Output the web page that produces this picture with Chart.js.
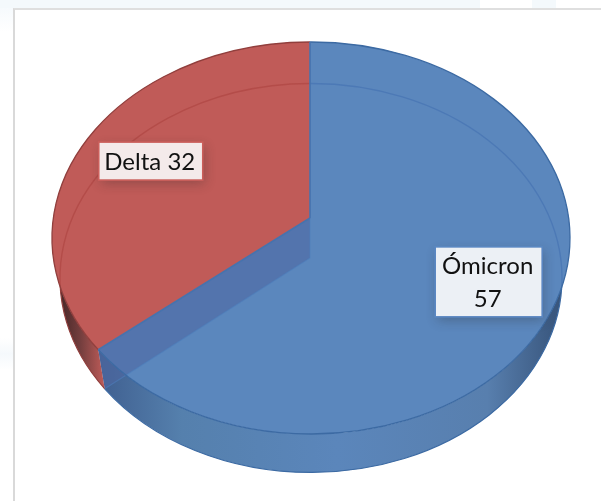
<!DOCTYPE html>
<html lang="es">
<head>
<meta charset="utf-8">
<title>Delta y Ómicron</title>
<script src="https://cdn.jsdelivr.net/npm/chart.js@4"></script>
<style>
  html, body { margin: 0; padding: 0; background: #fff; }
  #page { position: relative; width: 601px; height: 501px; overflow: hidden;
    background:
      linear-gradient(#f4f9fc, #f4f9fc) 0 0 / 480px 8px no-repeat,
      linear-gradient(#f4f9fc, #f4f9fc) 532px 0 / 24px 8px no-repeat,
      linear-gradient(to bottom, #f6fafd, #fff) 0 8px / 13px 24px no-repeat,
      linear-gradient(to bottom, #fff, #f5f9fc 50%, #fff) 0 338px / 13px 32px no-repeat,
      #fff; }
  #panel { position: absolute; left: 13px; top: 8px; right: 0; bottom: 0; background: #fff;
    border-left: 2px solid #d9d9d9; border-top: 2px solid #dfdfdf; }
  #wrap { position: absolute; left: 0; top: 0; width: 601px; height: 501px; }
</style>
</head>
<body>
<div id="page">
  <div id="panel"></div>
  <div id="wrap"><canvas id="pie"></canvas></div>
</div>
<script>
// Variant counts shown on the tilted pie
const categories = ['Ómicron', 'Delta'];
const values = [57, 32];

// Slice styling, in the same order as the categories
const faceColors = ['#5b87bd', '#c05b58'];
const rimColors = ['#3c6aa3', '#913f3d'];
const innerLineColors = ['rgba(66,112,176,0.6)', 'rgba(172,66,64,0.6)'];
const labelFills = ['#ecf0f5', '#f4eaea'];
const labelBorders = ['#5a87c2', '#cb5f5b'];
const labelLines = [['Ómicron', '57'], ['Delta 32']];
const labelReach = [0.763, 0.68];

// Projection of the round pie: wide top face, slightly smaller base seen through it
const STRETCH = 259 / 196;
const BASE_STRETCH = 251 / 196;
const BASE_SQUASH = 0.992;
const BASE_DROP = 40 / 196;
const APEX_SHIFT = 20 / 196;

function faces(arc) {
  const R = arc.outerRadius;
  return {
    top: { cx: arc.x, cy: arc.y, rx: R * STRETCH, ry: R,
           ax: arc.x - 1, ay: arc.y - R * APEX_SHIFT },
    base: { cx: arc.x, cy: arc.y + R * BASE_DROP, rx: R * BASE_STRETCH, ry: R * BASE_SQUASH,
            ax: arc.x - 1, ay: arc.y + R * APEX_SHIFT }
  };
}

// Where a ray leaving the face's apex at a given slice angle reaches the face's edge
function rimPoint(f, angle) {
  const dx = Math.cos(angle) * f.rx, dy = Math.sin(angle) * f.ry;
  const ox = (f.ax - f.cx) / f.rx, oy = (f.ay - f.cy) / f.ry;
  const ux = dx / f.rx, uy = dy / f.ry;
  const a = ux * ux + uy * uy, b = 2 * (ox * ux + oy * uy), c = ox * ox + oy * oy - 1;
  const t = (-b + Math.sqrt(b * b - 4 * a * c)) / (2 * a);
  const x = f.ax + t * dx, y = f.ay + t * dy;
  return { x, y, phi: Math.atan2((y - f.cy) / f.ry, (x - f.cx) / f.rx) };
}

function unwrap(phi, from) {
  let p = phi;
  while (p <= from) p += Math.PI * 2;
  return p;
}

function wallPath(ctx, top, base, a0, a1) {
  const t0 = rimPoint(top, a0), t1 = rimPoint(top, a1);
  const b0 = rimPoint(base, a0), b1 = rimPoint(base, a1);
  ctx.beginPath();
  ctx.moveTo(t0.x, t0.y);
  ctx.lineTo(b0.x, b0.y);
  ctx.ellipse(base.cx, base.cy, base.rx, base.ry, 0, b0.phi, unwrap(b1.phi, b0.phi));
  ctx.lineTo(t1.x, t1.y);
  ctx.ellipse(top.cx, top.cy, top.rx, top.ry, 0, t1.phi, t0.phi < t1.phi ? t0.phi : t0.phi - Math.PI * 2, true);
  ctx.closePath();
}

function clipOutside(ctx, f, chart) {
  ctx.beginPath();
  ctx.rect(0, 0, chart.width, chart.height);
  ctx.ellipse(f.cx, f.cy, f.rx, f.ry, 0, 0, Math.PI * 2);
  ctx.clip('evenodd');
}

function wallFill(ctx, index, top) {
  const left = top.cx - top.rx;
  const width = top.rx * 2;
  const g = ctx.createLinearGradient(left, 0, left + width, 0);
  if (index === 0) {
    g.addColorStop(0.09, '#3f5f90');
    g.addColorStop(0.25, '#5580ad');
    g.addColorStop(0.55, '#5b86bb');
    g.addColorStop(0.84, '#587fae');
    g.addColorStop(0.98, '#38557c');
  } else {
    g.addColorStop(0.015, '#472727');
    g.addColorStop(0.055, '#743e3e');
    g.addColorStop(0.1, '#bd5b58');
  }
  return g;
}

const tiltedPie = {
  id: 'tiltedPie',
  beforeDatasetsDraw(chart) {
    const ctx = chart.ctx;
    const arcs = chart.getDatasetMeta(0).data;
    const { top, base } = faces(arcs[0]);

    // Outer wall, visible only where the base sticks out below the top face
    ctx.save();
    clipOutside(ctx, top, chart);
    arcs.forEach((arc, i) => {
      wallPath(ctx, top, base, arc.startAngle, arc.endAngle);
      ctx.fillStyle = wallFill(ctx, i, top);
      ctx.fill();
    });
    arcs.forEach((arc, i) => {
      const b0 = rimPoint(base, arc.startAngle), b1 = rimPoint(base, arc.endAngle);
      ctx.beginPath();
      ctx.ellipse(base.cx, base.cy, base.rx, base.ry, 0, b0.phi, unwrap(b1.phi, b0.phi));
      ctx.strokeStyle = rimColors[i];
      ctx.lineWidth = 1.2;
      ctx.stroke();
    });
    ctx.restore();

    // Top face
    arcs.forEach((arc, i) => {
      const p0 = rimPoint(top, arc.startAngle), p1 = rimPoint(top, arc.endAngle);
      ctx.beginPath();
      ctx.moveTo(top.ax, top.ay);
      ctx.lineTo(p0.x, p0.y);
      ctx.ellipse(top.cx, top.cy, top.rx, top.ry, 0, p0.phi, unwrap(p1.phi, p0.phi));
      ctx.closePath();
      ctx.fillStyle = faceColors[i];
      ctx.fill();
    });

    // Base outline showing through the translucent top face
    ctx.save();
    ctx.beginPath();
    ctx.ellipse(top.cx, top.cy, top.rx, top.ry, 0, 0, Math.PI * 2);
    ctx.clip();
    arcs.forEach((arc, i) => {
      const b0 = rimPoint(base, arc.startAngle), b1 = rimPoint(base, arc.endAngle);
      ctx.beginPath();
      ctx.ellipse(base.cx, base.cy, base.rx, base.ry, 0, b0.phi, unwrap(b1.phi, b0.phi));
      ctx.strokeStyle = innerLineColors[i];
      ctx.lineWidth = 1.4;
      ctx.stroke();
    });
    ctx.restore();

    // Cut wall of the large slice, seen through its face
    const cut = arcs[0].endAngle;
    const tc = rimPoint(top, cut), bc = rimPoint(base, cut);
    ctx.beginPath();
    ctx.moveTo(top.ax, top.ay);
    ctx.lineTo(tc.x, tc.y);
    ctx.lineTo(bc.x, bc.y);
    ctx.lineTo(base.ax, base.ay);
    ctx.closePath();
    ctx.fillStyle = 'rgba(78,104,162,0.6)';
    ctx.fill();
    ctx.beginPath();
    ctx.moveTo(top.ax, top.ay);
    ctx.lineTo(base.ax, base.ay);
    ctx.lineTo(bc.x, bc.y);
    ctx.strokeStyle = 'rgba(76,128,190,0.55)';
    ctx.lineWidth = 1.2;
    ctx.stroke();

    // Rims of the top face
    arcs.forEach((arc, i) => {
      const p0 = rimPoint(top, arc.startAngle), p1 = rimPoint(top, arc.endAngle);
      ctx.beginPath();
      ctx.ellipse(top.cx, top.cy, top.rx, top.ry, 0, p0.phi, unwrap(p1.phi, p0.phi));
      ctx.strokeStyle = rimColors[i];
      ctx.lineWidth = 1.3;
      ctx.stroke();
    });

    // Slice borders running in from the rim to the apex
    arcs.forEach(arc => {
      const p0 = rimPoint(top, arc.startAngle);
      ctx.beginPath();
      ctx.moveTo(top.ax, top.ay);
      ctx.lineTo(p0.x, p0.y);
      ctx.strokeStyle = '#4673ae';
      ctx.lineWidth = 1.6;
      ctx.stroke();
    });

    // Value labels
    ctx.font = '24px Lato, "Open Sans", sans-serif';
    ctx.textAlign = 'center';
    ctx.textBaseline = 'middle';
    arcs.forEach((arc, i) => {
      const mid = (arc.startAngle + arc.endAngle) / 2;
      const x = top.ax + Math.cos(mid) * top.rx * labelReach[i];
      const y = top.ay + Math.sin(mid) * top.ry * labelReach[i];
      const lines = labelLines[i];
      const w = i === 0 ? 107 : 104;
      const h = lines.length === 2 ? 70 : 38;
      ctx.save();
      ctx.shadowColor = 'rgba(40,40,40,0.3)';
      ctx.shadowBlur = 11;
      ctx.shadowOffsetX = 2;
      ctx.shadowOffsetY = 4;
      ctx.fillStyle = labelFills[i];
      ctx.fillRect(x - w / 2, y - h / 2, w, h);
      ctx.restore();
      ctx.strokeStyle = labelBorders[i];
      ctx.lineWidth = 1.6;
      ctx.strokeRect(x - w / 2, y - h / 2, w, h);
      ctx.fillStyle = '#111';
      lines.forEach((line, k) => {
        ctx.fillText(line, x - 1, y + (k - (lines.length - 1) / 2) * 33 + 1);
      });
    });

    return false;
  }
};

new Chart(document.getElementById('pie'), {
  type: 'pie',
  data: {
    labels: categories,
    datasets: [{ data: values, backgroundColor: faceColors, borderWidth: 0 }]
  },
  options: {
    responsive: true,
    maintainAspectRatio: false,
    animation: false,
    events: [],
    layout: { padding: { left: 52, right: 31, top: 42, bottom: 67 } },
    plugins: { legend: { display: false }, tooltip: { enabled: false } }
  },
  plugins: [tiltedPie]
});
</script>
</body>
</html>
